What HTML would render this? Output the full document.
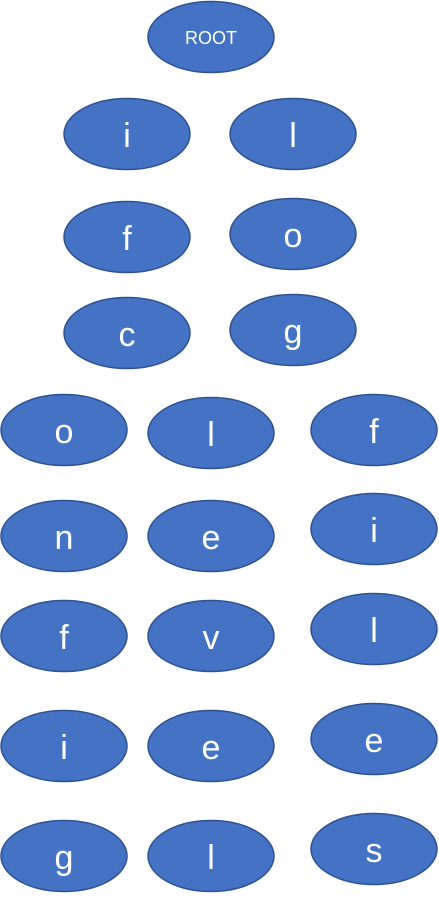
<!DOCTYPE html>
<html><head><meta charset="utf-8"><style>
html,body{margin:0;padding:0;background:#fff;}
svg{display:block;}
text{font-family:"Liberation Sans","Noto Sans CJK SC",sans-serif;fill:#fff;text-anchor:middle;dominant-baseline:central;}
</style></head><body>
<svg id="tree" width="439" height="907" viewBox="0 0 439 907" xmlns="http://www.w3.org/2000/svg"></svg>
<script>
const labels = ["ROOT","i","l","f","o","c","g","o","l","f","n","e","i","f","v","l","i","e","e","g","l","s"];
const cx = [211,127,293,127,293,127,293,64,211,374,64,211,374,64,211,374,64,211,374,64,211,374];
const cy = [37,134,134,237,234,333,330,430,433,430,536,536,529,636,636,629,746,746,739,856,856,849];
const svg = document.getElementById('tree');
const NS = 'http://www.w3.org/2000/svg';
for (let k = 0; k < labels.length; k++) {
  const g = document.createElementNS(NS, 'g');
  
  
  const e = document.createElementNS(NS, 'ellipse');
  e.setAttribute('cx', cx[k]); e.setAttribute('cy', cy[k]);
  e.setAttribute('rx', 63); e.setAttribute('ry', 35.5);
  e.setAttribute('fill', '#4472C4'); e.setAttribute('stroke', '#2F528F'); e.setAttribute('stroke-width', '1.5');
  
  
  const t = document.createElementNS(NS, 'text');
  t.setAttribute('x', cx[k]); t.setAttribute('y', cy[k] + (k === 0 ? 1 : 2));
  t.setAttribute('font-size', k === 0 ? 18 : 34);
  t.textContent = labels[k];
  
  
  g.appendChild(e); g.appendChild(t); svg.appendChild(g);
}
</script>
</body></html>
